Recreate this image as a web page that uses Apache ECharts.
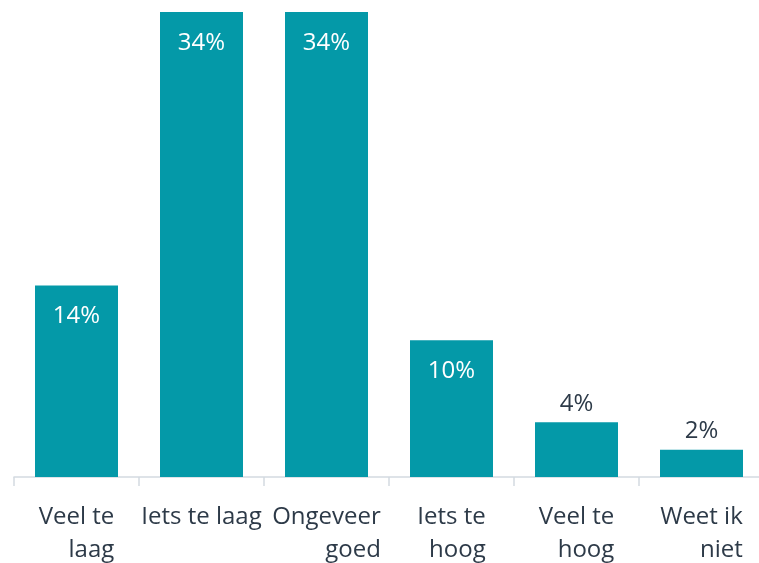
<!DOCTYPE html>
<html><head><meta charset="utf-8">
<script src="https://cdn.jsdelivr.net/npm/echarts@6/dist/echarts.min.js"></script>
<style>html,body{margin:0;padding:0;background:#fff;overflow:hidden}#c{width:764px;height:563px}</style>
</head><body><div id="c"></div>
<script>
var categories = ['Veel te\nlaag', 'Iets te laag', 'Ongeveer\ngoed', 'Iets te\nhoog', 'Veel te\nhoog', 'Weet ik\nniet'];
var values = [14, 34, 34, 10, 4, 2];
var insideThreshold = 8;

var chart = echarts.init(document.getElementById('c'), null, {renderer: 'canvas'});
var font = '"Open Sans", "Noto Sans", sans-serif';
var data = values.map(function (v) {
  var inside = v >= insideThreshold;
  return {
    value: v,
    label: inside
      ? {position: 'insideTop', distance: 19, color: '#ffffff'}
      : {position: 'top', distance: 6, color: '#2d3a48'}
  };
});
chart.setOption({
  animation: false,
  grid: {left: 14, top: 12, right: 0, bottom: 86, containLabel: false},
  xAxis: {
    type: 'category',
    data: categories,
    axisLine: {show: true, lineStyle: {color: '#d3dae1', width: 1.5}},
    axisTick: {show: true, length: 9, alignWithLabel: false, lineStyle: {color: '#d3dae1', width: 1.5}},
    axisLabel: {
      interval: 0,
      margin: 24,
      fontFamily: font,
      fontSize: 24,
      color: '#2d3a48',
      formatter: function (s) {
        return s.split('\n').map(function (l) { return '{r|' + l + '}'; }).join('\n');
      },
      rich: {r: {align: 'right', fontFamily: font, fontSize: 24, color: '#2d3a48', lineHeight: 33}}
    }
  },
  yAxis: {type: 'value', min: 0, max: 34, show: false, splitLine: {show: false}},
  series: [{
    type: 'bar',
    data: data,
    barWidth: 83,
    itemStyle: {color: '#0499a8'},
    label: {show: true, fontFamily: font, fontSize: 24, formatter: '{c}%'}
  }]
});
</script></body></html>
